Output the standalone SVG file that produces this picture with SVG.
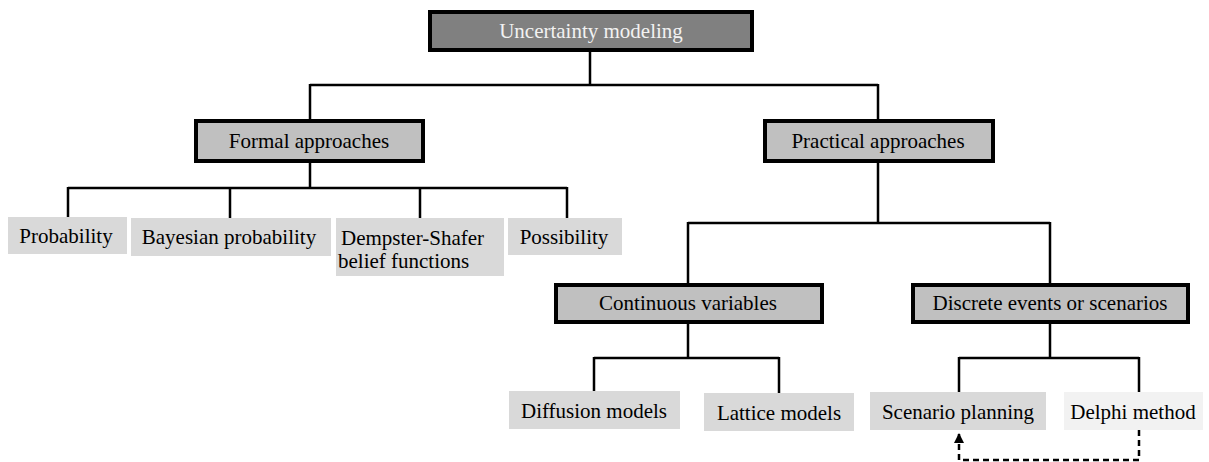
<svg xmlns="http://www.w3.org/2000/svg" width="1209" height="462" viewBox="0 0 1209 462" font-family="'Liberation Serif', 'Times New Roman', 'DejaVu Serif', serif">
  <style>
    text { font-family: "Liberation Serif", "Times New Roman", "DejaVu Serif", serif; font-size: 21px; fill: #000; text-anchor: middle; }
    .root rect { fill: #808080; stroke: #000; stroke-width: 4; }
    .root text { fill: #f2f2f2; }
    .group rect { fill: #c0c0c0; stroke: #000; stroke-width: 4; }
    .leaf rect { fill: #d9d9d9; }
    .leaf.pale rect { fill: #f2f2f2; }
    .link { fill: none; stroke: #000; stroke-width: 2.5; }
    .dash { fill: none; stroke: #000; stroke-width: 2.5; stroke-dasharray: 6 4; }
  </style>
  <defs>
    <marker id="arrow" viewBox="0 0 10 10" refX="9" refY="5" markerWidth="4" markerHeight="4" orient="auto">
      <path d="M0,0 L10,5 L0,10 z" fill="#000"/>
    </marker>
  </defs>
  <rect width="1209" height="462" fill="#fff"/>

  <g id="connectors">
    <!-- root to approaches -->
    <path class="link" d="M590,50 V85 M310,85 H878 M310,84 V120 M878,84 V121"/>
    <!-- formal approaches to leaves -->
    <path class="link" d="M310,161 V188 M68,188 H567 M68,187 V217 M230,187 V218 M420,187 V218 M567,187 V218"/>
    <!-- practical approaches to sub-groups -->
    <path class="link" d="M878,161 V223 M688,223 H1050 M688,222 V284 M1050,222 V284"/>
    <!-- continuous variables to leaves -->
    <path class="link" d="M688,322 V358 M594,358 H779 M594,357 V391 M779,357 V393"/>
    <!-- discrete events to leaves -->
    <path class="link" d="M1050,322 V358 M959,358 H1139 M959,357 V392 M1139,357 V392"/>
    <!-- feedback from Delphi method to scenario planning -->
    <path class="dash" d="M1139,430 V460 H959 V434" marker-end="url(#arrow)"/>
  </g>

  <g id="uncertainty-modeling" class="root">
    <rect x="430" y="12" width="322" height="38"/>
    <text x="591" y="38">Uncertainty modeling</text>
  </g>

  <g id="formal-approaches" class="group">
    <rect x="196" y="121" width="227" height="40"/>
    <text x="309" y="148">Formal approaches</text>
  </g>
  <g id="practical-approaches" class="group">
    <rect x="765" y="121" width="228" height="40"/>
    <text x="878" y="148">Practical approaches</text>
  </g>

  <g id="probability" class="leaf">
    <rect x="8" y="217" width="119" height="37"/>
    <text x="66" y="243">Probability</text>
  </g>
  <g id="bayesian-probability" class="leaf">
    <rect x="131" y="218" width="200" height="38"/>
    <text x="229" y="244">Bayesian probability</text>
  </g>
  <g id="dempster-shafer" class="leaf">
    <rect x="336" y="218" width="168" height="58"/>
    <text x="341" y="245" style="text-anchor:start">Dempster-Shafer</text>
    <text x="338" y="268" style="text-anchor:start">belief functions</text>
  </g>
  <g id="possibility" class="leaf">
    <rect x="508" y="218" width="114" height="37"/>
    <text x="564" y="244">Possibility</text>
  </g>

  <g id="continuous-variables" class="group">
    <rect x="556" y="285" width="266" height="37"/>
    <text x="688" y="310">Continuous variables</text>
  </g>
  <g id="discrete-events" class="group">
    <rect x="913" y="285" width="275" height="37"/>
    <text x="1050" y="310">Discrete events or scenarios</text>
  </g>

  <g id="diffusion-models" class="leaf">
    <rect x="509" y="391" width="171" height="38"/>
    <text x="594" y="418">Diffusion models</text>
  </g>
  <g id="lattice-models" class="leaf">
    <rect x="704" y="393" width="150" height="38"/>
    <text x="779" y="420">Lattice models</text>
  </g>
  <g id="scenario-planning" class="leaf">
    <rect x="870" y="392" width="176" height="38"/>
    <text x="958" y="419">Scenario planning</text>
  </g>
  <g id="delphi-method" class="leaf pale">
    <rect x="1064" y="392" width="139" height="38"/>
    <text x="1133" y="419">Delphi method</text>
  </g>
</svg>
